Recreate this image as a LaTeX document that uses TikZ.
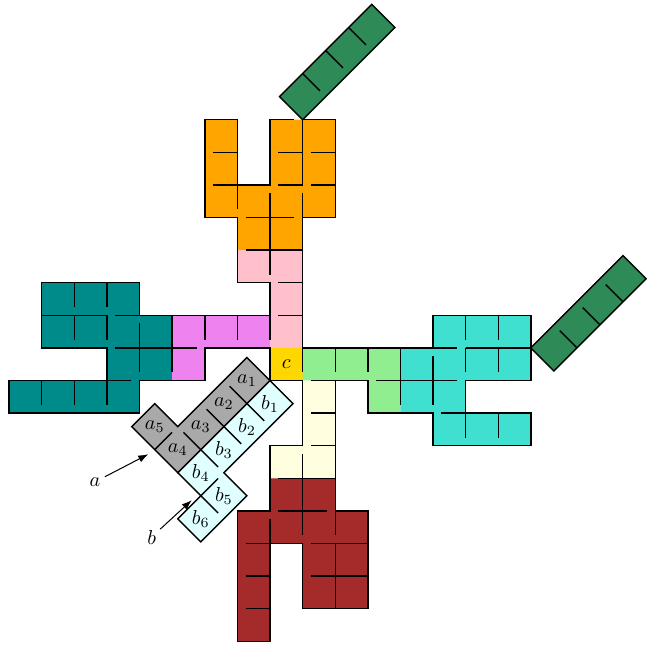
\documentclass[tikz,border=0pt]{standalone}
\usetikzlibrary{arrows.meta}
\definecolor{cTeal}{RGB}{0,139,139}
\definecolor{cViolet}{RGB}{238,130,238}
\definecolor{cPink}{RGB}{255,192,203}
\definecolor{cOrange}{RGB}{255,165,0}
\definecolor{cSea}{RGB}{46,139,87}
\definecolor{cGold}{RGB}{255,215,0}
\definecolor{cLGreen}{RGB}{144,238,144}
\definecolor{cTurq}{RGB}{64,224,208}
\definecolor{cCream}{RGB}{255,255,224}
\definecolor{cBrown}{RGB}{165,42,42}
\definecolor{cGrey}{RGB}{169,169,169}
\definecolor{cCyan}{RGB}{224,255,255}
\begin{document}
\begin{tikzpicture}[x=0.567cm,y=0.567cm,line width=0.7pt,
  wall/.style={line width=0.7pt,line cap=butt},
  pointer/.style={-{Latex[length=5pt,width=3.6pt]},line width=0.5pt,shorten <=1pt}]
\useasboundingbox (-8.282,-8.113) rectangle (11.564,11.672);
% ---------- fills ----------
\fill[cTeal] (-7,3)--(-4,3)--(-4,2)--(-3,2)--(-3,0)--(-4,0)--(-4,-1)--(-8,-1)--(-8,0)--(-5,0)--(-5,1)--(-7,1)--cycle;
\fill[cViolet] (-3,2)--(0,2)--(0,1)--(-2,1)--(-2,0)--(-3,0)--cycle;
\fill[cPink] (-1,4)--(1,4)--(1,1)--(0,1)--(0,3)--(-1,3)--cycle;
\fill[cOrange] (-2,8)--(-1,8)--(-1,6)--(0,6)--(0,8)--(2,8)--(2,5)--(1,5)--(1,4)--(-1,4)--(-1,5)--(-2,5)--cycle;
\fill[cGold] (0,0) rectangle (1,1);
\fill[cLGreen] (1,1)--(4,1)--(4,-1)--(3,-1)--(3,0)--(1,0)--cycle;
\fill[cTurq] (4,1)--(5,1)--(5,2)--(8,2)--(8,0)--(6,0)--(6,-1)--(8,-1)--(8,-2)--(5,-2)--(5,-1)--(4,-1)--cycle;
\fill[cCream] (1,0)--(2,0)--(2,-3)--(0,-3)--(0,-2)--(1,-2)--cycle;
\fill[cBrown] (0,-3)--(2,-3)--(2,-4)--(3,-4)--(3,-7)--(1,-7)--(1,-5)--(0,-5)--(0,-8)--(-1,-8)--(-1,-4)--(0,-4)--cycle;
% ---------- outer boundary ----------
\draw[wall] (1,8)--(2,8)--(2,5)--(1,5)--(1,1)--(5,1)--(5,2)--(8,2)--(8,0)--(6,0)--(6,-1)--(8,-1)--(8,-2)--(5,-2)--(5,-1)--(3,-1)--(3,0)--(2,0)--(2,-4)--(3,-4)--(3,-7)--(1,-7)--(1,-5)--(0,-5)--(0,-8)--(-1,-8)--(-1,-4)--(0,-4)--(0,-2)--(1,-2)--(1,0)--(0,0)--(0,1)--(-2,1)--(-2,0)--(-4,0)--(-4,-1)--(-8,-1)--(-8,0)--(-5,0)--(-5,1)--(-7,1)--(-7,3)--(-4,3)--(-4,2)--(0,2)--(0,3)--(-1,3)--(-1,5)--(-2,5)--(-2,8)--(-1,8)--(-1,6)--(0,6)--(0,8)--(0.75,8);
% ---------- inner walls: teal ----------
\draw[wall] (-6,3)--(-6,2.25) (-5,3)--(-5,2.25);
\draw[wall] (-7,2)--(-5,2) (-4.75,2)--(-4,2);
\draw[wall] (-6,2)--(-6,1.25) (-5,2)--(-5,1.25);
\draw[wall] (-4,1.75)--(-4,0.25);
\draw[wall] (-4.75,1)--(-2.25,1);
\draw[wall] (-5,0)--(-4.25,0);
\draw[wall] (-7,0)--(-7,-0.75) (-6,0)--(-6,-0.75) (-5,0)--(-5,-0.75);
\draw[wall] (-3,2)--(-3,0.25);
% violet
\draw[wall] (-2,2)--(-2,1.25) (-1,2)--(-1,1.25);
\draw[wall] (0,2)--(0,1.25);
% pink
\draw[wall] (0.25,3)--(1,3) (0.25,2)--(1,2);
\draw[wall] (-0.75,4)--(1,4);
% orange
\draw[wall] (-1.75,7)--(-1,7) (-1.75,6)--(-1,6);
\draw[wall] (-1,6)--(-1,5.25);
\draw[wall] (0.25,7)--(1,7) (1.25,7)--(2,7) (0.25,6)--(1,6) (1.25,6)--(2,6);
\draw[wall] (-0.75,5)--(0.75,5);
\draw[wall] (0,5.75)--(0,3.25);
\draw[wall] (1,8)--(1,6) (1,5.75)--(1,5);
% c / green / turquoise
\draw[wall] (1,1)--(1,0.25);
\draw[wall] (2,1)--(2,0.25) (3,1)--(3,0.25);
\draw[wall] (1.25,0)--(2,0);
\draw[wall] (3.25,0)--(5.75,0);
\draw[wall] (4,1)--(4,-0.75);
\draw[wall] (6,2)--(6,1.25) (7,2)--(7,1.25);
\draw[wall] (5,1)--(5.75,1) (6,1)--(8,1);
\draw[wall] (6,1)--(6,0.25) (7,1)--(7,0.25);
\draw[wall] (5,0.75)--(5,-0.75);
\draw[wall] (5.25,-1)--(6,-1);
\draw[wall] (6,-1)--(6,-1.75) (7,-1)--(7,-1.75);
% cream / brown
\draw[wall] (1.25,-1)--(2,-1) (1.25,-2)--(2,-2);
\draw[wall] (1,-2.25)--(1,-4.75);
\draw[wall] (0.25,-3)--(2,-3);
\draw[wall] (0.25,-4)--(1.75,-4);
\draw[wall] (0,-4.25)--(0,-5);
\draw[wall] (-0.75,-5)--(0,-5) (1.25,-5)--(3,-5);
\draw[wall] (-0.75,-6)--(0,-6) (1.25,-6)--(3,-6);
\draw[wall] (-0.75,-7)--(0,-7);
\draw[wall] (2,-4)--(2,-4.75) (2,-5)--(2,-7);
% ---------- sea green bars ----------
\begin{scope}[shift={(1,8)},rotate=45]
  \draw[wall,fill=cSea] (0,0) rectangle (4,1);
  \foreach \k in {1,2,3} \draw[wall] (\k,1)--(\k,0.25);
\end{scope}
\begin{scope}[shift={(8,1)},rotate=45]
  \draw[wall,fill=cSea] (0,0) rectangle (4,-1);
  \foreach \k in {1,2,3} \draw[wall] (\k,-1)--(\k,-0.25);
\end{scope}
% ---------- diagonal pieces a and b ----------
\begin{scope}[rotate=-135]
  \draw[wall,fill=cGrey] (0,0)--(0,-1)--(3,-1)--(3,-2)--(4,-2)--(4,0)--cycle;
  \draw[wall,fill=cCyan] (0,0)--(0,1)--(3,1)--(3,2)--(5,2)--(5,1)--(4,1)--(4,0)--cycle;
  \foreach \k in {1,2,3} \draw[wall] (\k,-0.75)--(\k,0.75);
  \draw[wall] (3.25,-1)--(4,-1) (3.25,1)--(4,1) (4,1)--(4,1.75);
  \node (a1) at (0.5,-0.5) {$a_1$};
  \node (a2) at (1.5,-0.5) {$a_2$};
  \node (a3) at (2.5,-0.5) {$a_3$};
  \node (a4) at (3.5,-0.5) {$a_4$};
  \node (a5) at (3.5,-1.5) {$a_5$};
  \node (b1) at (0.5,0.5) {$b_1$};
  \node (b2) at (1.5,0.5) {$b_2$};
  \node (b3) at (2.5,0.5) {$b_3$};
  \node (b4) at (3.5,0.5) {$b_4$};
  \node (b5) at (3.5,1.5) {$b_5$};
  \node (b6) at (4.5,1.5) {$b_6$};
\end{scope}
\node (cc) at (0.5,0.5) {$c$};
% ---------- pointers ----------
\node[inner sep=1pt] (la) at (-5.37,-3.11) {$a$};
\node[inner sep=1pt] (lb) at (-3.63,-4.80) {$b$};
\coordinate (atip) at (-3.73,-2.26);
\coordinate (btip) at (-2.40,-3.67);
\draw[pointer] (la) -- (atip);
\draw[pointer] (lb) -- (btip);
\end{tikzpicture}
\end{document}
